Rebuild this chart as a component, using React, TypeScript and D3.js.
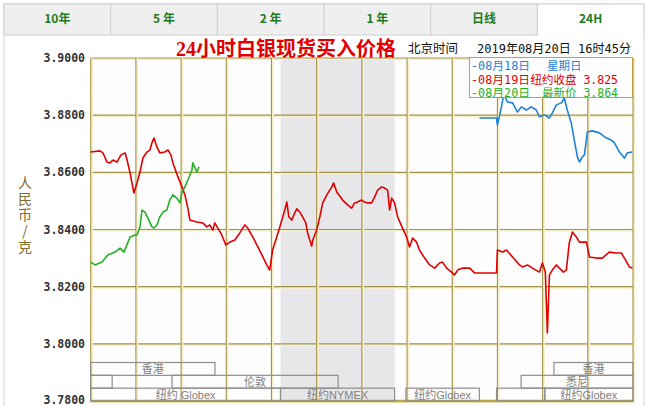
import React from "react";
import * as d3 from "d3";

const W = 648;
const H = 406;

const tabLabels = ["10年", "5 年", "2 年", "1 年", "日线", "24H"];
const activeTab = "24H";
const titleText = "24小时白银现货买入价格";
const timeLabel = "北京时间";
const timeStamp = "2019年08月20日 16时45分";
const yAxisTitle = "人民币/克";
const yTickValues = [3.9, 3.88, 3.86, 3.84, 3.82, 3.8, 3.78];
const hourTicks = [0, 2, 4, 6, 8, 10, 12, 14, 16, 18, 20, 22, 24];

// [hour since chart start, price]
const series0819: [number, number][] = [
  [0.0, 3.8671], [0.41, 3.8675], [0.54, 3.8668], [0.72, 3.8636], [0.85, 3.8633], [0.99, 3.8643],
  [1.16, 3.8636], [1.34, 3.8661], [1.52, 3.8668], [1.61, 3.8643], [1.74, 3.8598], [1.87, 3.8545],
  [1.91, 3.8528], [2.05, 3.8563], [2.18, 3.8601], [2.31, 3.865], [2.49, 3.8671], [2.62, 3.8678],
  [2.71, 3.8703], [2.8, 3.872], [2.93, 3.8689], [3.06, 3.8668], [3.28, 3.8671], [3.42, 3.8678],
  [3.55, 3.8661], [3.64, 3.8633], [3.86, 3.8584], [4.04, 3.8549], [4.17, 3.8521], [4.3, 3.8475],
  [4.39, 3.8433], [4.7, 3.8426], [4.96, 3.8423], [5.14, 3.8409], [5.27, 3.8416], [5.41, 3.8398],
  [5.49, 3.8423], [5.63, 3.8405], [5.8, 3.8381], [5.98, 3.8346], [6.16, 3.8356], [6.38, 3.8363],
  [6.6, 3.8388], [6.82, 3.8416], [6.95, 3.8405], [7.17, 3.8374], [7.4, 3.8339], [7.62, 3.8304],
  [7.79, 3.8276], [7.92, 3.8258], [8.05, 3.8328], [8.15, 3.8353], [8.37, 3.8409], [8.59, 3.8468],
  [8.68, 3.8496], [8.77, 3.8444], [8.9, 3.8433], [8.99, 3.8451], [9.12, 3.8472], [9.25, 3.8461],
  [9.38, 3.8444], [9.52, 3.8423], [9.6, 3.8388], [9.78, 3.8342], [9.83, 3.8363], [10.0, 3.8398],
  [10.14, 3.8444], [10.27, 3.8493], [10.45, 3.8521], [10.67, 3.8549], [10.75, 3.8563], [10.89, 3.8531],
  [11.02, 3.8517], [11.15, 3.8503], [11.37, 3.8486], [11.55, 3.8475], [11.68, 3.8493], [11.81, 3.8496],
  [11.99, 3.8503], [12.12, 3.8496], [12.26, 3.8493], [12.43, 3.8493], [12.57, 3.8514], [12.7, 3.8538],
  [12.88, 3.8549], [13.01, 3.8545], [13.14, 3.8538], [13.23, 3.8468], [13.32, 3.851], [13.45, 3.8493],
  [13.58, 3.8444], [13.8, 3.8405], [13.98, 3.8374], [14.11, 3.8339], [14.25, 3.837], [14.42, 3.8356],
  [14.55, 3.8328], [14.78, 3.83], [15.0, 3.8276], [15.22, 3.8265], [15.44, 3.8283], [15.57, 3.8286],
  [15.75, 3.8265], [15.97, 3.8251], [16.1, 3.8241], [16.24, 3.8258], [16.46, 3.8265], [16.77, 3.8265],
  [16.99, 3.8248], [17.96, 3.8248], [18.0, 3.8328], [18.23, 3.8321], [18.4, 3.8328], [18.67, 3.8304],
  [18.98, 3.8276], [19.11, 3.8269], [19.33, 3.8276], [19.55, 3.8265], [19.86, 3.8251], [19.99, 3.8283],
  [20.12, 3.8251], [20.21, 3.8038], [20.3, 3.8241], [20.43, 3.8258], [20.61, 3.8276], [20.74, 3.8265],
  [20.92, 3.8251], [21.05, 3.8258], [21.18, 3.8353], [21.32, 3.8391], [21.49, 3.8374], [21.63, 3.8356],
  [21.94, 3.8356], [22.07, 3.8304], [22.38, 3.83], [22.64, 3.83], [22.95, 3.8321], [23.26, 3.8318],
  [23.48, 3.8318], [23.62, 3.83], [23.84, 3.8269], [23.97, 3.8265],
];

const series0820: [number, number][] = [
  [0.0, 3.8286], [0.19, 3.8276], [0.5, 3.8286], [0.76, 3.8311], [1.08, 3.8321], [1.3, 3.8335],
  [1.47, 3.8321], [1.6, 3.8346], [1.74, 3.8374], [1.96, 3.8381], [2.05, 3.8381], [2.18, 3.8409],
  [2.27, 3.8468], [2.4, 3.8461], [2.53, 3.844], [2.71, 3.8409], [2.8, 3.8405], [2.93, 3.8416],
  [3.06, 3.8444], [3.2, 3.8461], [3.37, 3.8468], [3.5, 3.8503], [3.64, 3.8521], [3.81, 3.851],
  [3.95, 3.8493], [4.04, 3.8531], [4.17, 3.8549], [4.3, 3.8573], [4.48, 3.8608], [4.52, 3.8633],
  [4.7, 3.8601], [4.79, 3.8619],
];

const series0818: [number, number][] = [
  [17.21, 3.879], [17.96, 3.879], [18.0, 3.8766], [18.18, 3.8829], [18.23, 3.8853], [18.31, 3.8871],
  [18.44, 3.8846], [18.67, 3.8843], [18.89, 3.8811], [19.06, 3.8829], [19.28, 3.8818], [19.5, 3.8829],
  [19.72, 3.8818], [19.86, 3.8794], [20.08, 3.8801], [20.3, 3.879], [20.43, 3.8808], [20.61, 3.8836],
  [20.83, 3.8843], [20.96, 3.886], [21.09, 3.8818], [21.27, 3.8773], [21.4, 3.8713], [21.54, 3.8654],
  [21.63, 3.8636], [21.76, 3.8654], [21.85, 3.8661], [21.98, 3.8741], [22.2, 3.8745], [22.51, 3.8738],
  [22.82, 3.872], [23.04, 3.8713], [23.18, 3.8703], [23.4, 3.8671], [23.62, 3.865], [23.75, 3.8668],
  [23.97, 3.8671],
];

const legendDates = ["-08月18日", "-08月19日", "-08月20日"];
const legendNotes = ["星期日", "纽约收盘 3.825", "最新价 3.864"];

const sessions = [
  { label: "香港", start: 0, end: 5.5, row: 0 },
  { label: "香港", start: 20.5, end: 24, row: 0 },
  { label: "", start: 0, end: 0.95, row: 1 },
  { label: "伦敦", start: 3.6, end: 10.95, row: 1 },
  { label: "悉尼", start: 19.05, end: 24, row: 1 },
  { label: "纽约 Globex", start: 0, end: 8.4, row: 2 },
  { label: "纽约NYMEX", start: 8.4, end: 13.45, row: 2 },
  { label: "纽约Globex", start: 13.95, end: 17.2, row: 2 },
  { label: "", start: 17.96, end: 20.1, row: 2 },
  { label: "纽约Globex", start: 20.1, end: 24, row: 2 },
];
const shadedSession = "纽约NYMEX";

const COLORS = { s0818: "#1f80d6", s0819: "#e10000", s0820: "#25b025" };

export default function App() {
  const plotL = 90.7, plotR = 633, plotT = 58, plotB = 401;
  const x = d3.scaleLinear().domain([0, 24]).range([plotL, plotR]);
  const y = d3.scaleLinear().domain([3.78, 3.9]).range([plotB, plotT]);
  const line = d3.line<[number, number]>().x((d) => x(d[0])).y((d) => y(d[1]));
  const tabX = d3.scaleBand<string>().domain(tabLabels).range([4, 644]);
  const rowY = d3.scaleLinear().domain([0, 3]).range([362.5, 401]);
  const fmt = d3.format(".4f");
  const shaded = sessions.find((s) => s.label === shadedSession)!;
  const gridColor = "#a3924a";
  const halo = "#f7f0cc";
  const cjk = "'Noto Sans CJK SC', sans-serif";
  const mono = "'DejaVu Sans Mono', 'Noto Sans CJK SC', monospace";

  return (
    <svg width={W} height={H} style={{ position: "absolute", left: 0, top: 0, background: "#fff" }}>
      {/* outer frame */}
      <rect x={4} y={4} width={640} height={410} fill="#fff" stroke="#d4d4d4" />
      {/* tabs */}
      {tabLabels.map((t) => {
        const active = t === activeTab;
        const x0 = tabX(t)!;
        const w = tabX.bandwidth();
        return (
          <g key={t}>
            <rect x={x0} y={4} width={w} height={31} fill={active ? "#fff" : "#efefef"} stroke="#d0d0d0" />
            {active && <line x1={x0 + 0.5} x2={x0 + w - 0.5} y1={35} y2={35} stroke="#fff" strokeWidth={2} />}
            <text x={x0 + w / 2} y={23} textAnchor="middle" fontFamily={cjk} fontWeight={700} fontSize={12} fill="#217a21">
              {t}
            </text>
          </g>
        );
      })}

      {/* plot background */}
      <rect x={plotL} y={plotT} width={plotR - plotL} height={plotB - plotT} fill="#fdfdfd" />
      <rect x={x(shaded.start)} y={plotT} width={x(shaded.end) - x(shaded.start)} height={plotB - plotT} fill="#e7e7ea" />

      {/* grid */}
      {yTickValues.map((v) => (
        <g key={"h" + v}>
          <line x1={plotL} x2={plotR} y1={y(v) + 1} y2={y(v) + 1} stroke={halo} strokeWidth={2} />
          <line x1={plotL} x2={plotR} y1={y(v)} y2={y(v)} stroke={gridColor} strokeWidth={1.1} />
        </g>
      ))}
      {hourTicks.map((h) => (
        <g key={"v" + h}>
          <line x1={x(h) + 1.2} x2={x(h) + 1.2} y1={plotT} y2={plotB} stroke={halo} strokeWidth={2} />
          <line x1={x(h)} x2={x(h)} y1={plotT} y2={plotB} stroke={gridColor} strokeWidth={1.1} />
        </g>
      ))}
      <line x1={plotL} x2={plotR + 1} y1={plotB} y2={plotB} stroke="#b9a655" strokeWidth={2.5} />

      {/* y tick labels */}
      {yTickValues.map((v) => (
        <text key={"t" + v} x={85} y={Math.min(y(v) + 4, 404)} textAnchor="end" fontFamily="'DejaVu Sans Mono', monospace" fontWeight={700} fontSize={11.5} fill="#333">
          {fmt(v)}
        </text>
      ))}
      {/* y axis title */}
      <text
        x={25}
        y={176}
        fontFamily={cjk}
        fontSize={14}
        fill="#7d6d2e"
        letterSpacing={2}
        style={{ writingMode: "vertical-rl", textOrientation: "upright" } as any}
      >
        {yAxisTitle}
      </text>

      {/* sessions */}
      {sessions.map((s, i) => {
        const top = rowY(s.row);
        const bottom = rowY(s.row + 1);
        return (
          <g key={"s" + i}>
            <rect x={x(s.start)} y={top} width={x(s.end) - x(s.start)} height={bottom - top} fill="none" stroke="#8e8e8e" strokeWidth={1.2} />
            {s.label && (
              <text x={(x(s.start) + x(s.end)) / 2} y={top + 10.5} textAnchor="middle" fontFamily="'Liberation Sans', 'Noto Sans CJK SC', sans-serif" fontSize={11} fill="#7f7f7f">
                {s.label}
              </text>
            )}
          </g>
        );
      })}

      {/* series */}
      <path d={line(series0819)!} fill="none" stroke={COLORS.s0819} strokeWidth={1.6} strokeLinejoin="round" />
      <path d={line(series0820)!} fill="none" stroke={COLORS.s0820} strokeWidth={1.6} strokeLinejoin="round" />
      <path d={line(series0818)!} fill="none" stroke={COLORS.s0818} strokeWidth={1.6} strokeLinejoin="round" />

      {/* title */}
      <text x={286} y={56} textAnchor="middle" fontFamily="'Liberation Serif', 'Noto Sans CJK SC', serif" fontWeight={700} fontSize={20} fill="#e00000">
        {titleText}
      </text>
      <text x={408} y={53} fontFamily={cjk} fontSize={12.5} fill="#111">
        {timeLabel}
      </text>
      <text x={477} y={53} fontFamily={mono} fontSize={12} fill="#111">
        {timeStamp}
      </text>

      {/* legend */}
      <rect x={469.5} y={57.5} width={163} height={40} fill="#fff" stroke="#b8a24e" />
      {legendDates.map((d, i) => {
        const color = [COLORS.s0818, COLORS.s0819, COLORS.s0820][i];
        const yy = 70 + i * 13.5;
        return (
          <g key={"l" + i}>
            <text x={471} y={yy} fontFamily={mono} fontSize={11.5} fill={color} textLength={59} lengthAdjust="spacingAndGlyphs">
              {d}
            </text>
            <text x={i === 0 ? 547 : 618} y={yy} textAnchor={i === 0 ? "start" : "end"} fontFamily={mono} fontSize={11.5} fill={color}>
              {legendNotes[i]}
            </text>
          </g>
        );
      })}
    </svg>
  );
}
